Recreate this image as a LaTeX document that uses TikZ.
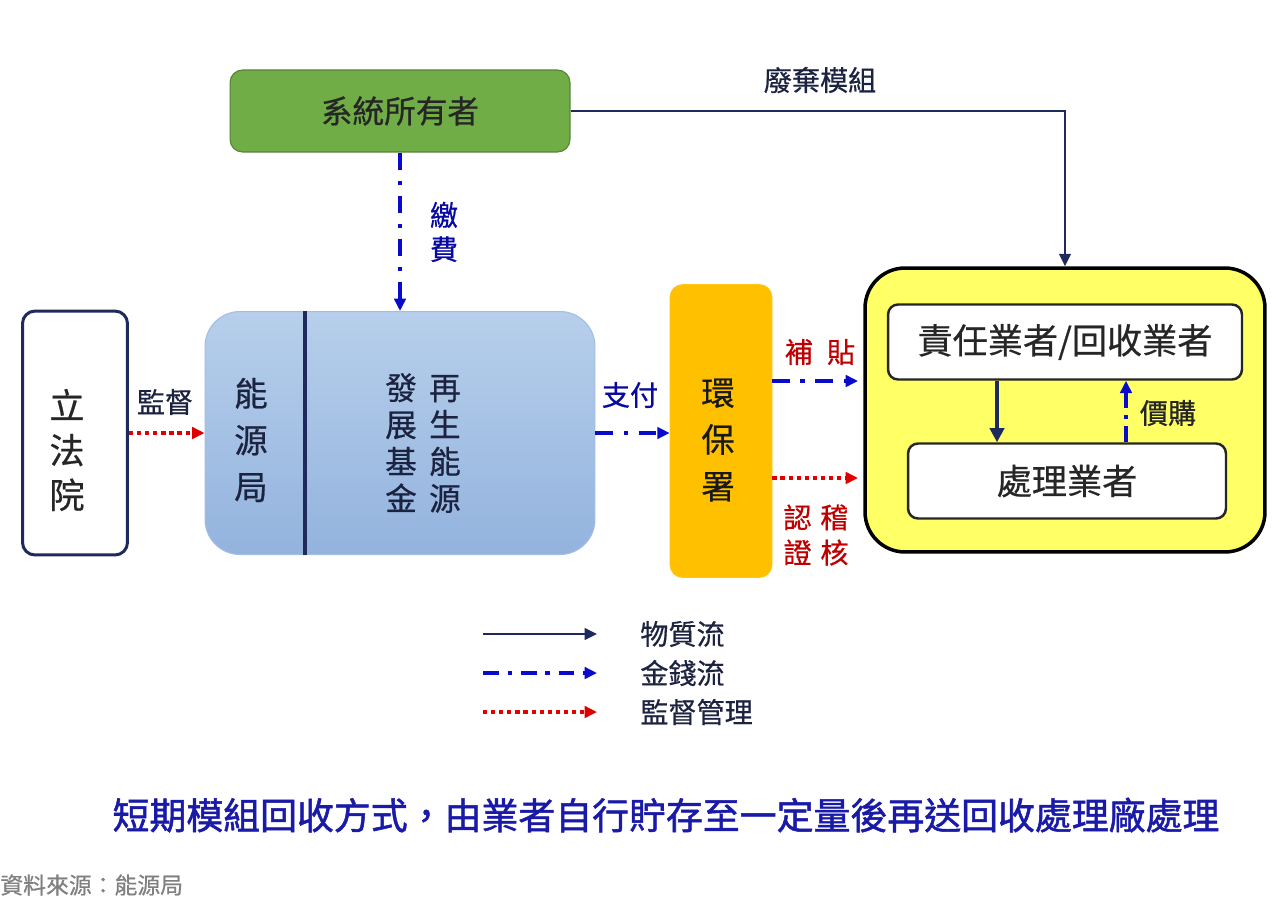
\documentclass[tikz,border=0pt]{standalone}
\usepackage{fontspec}
\setmainfont{Noto Sans CJK TC}[FakeBold=0.6]
\newfontfamily\capfont{Noto Sans CJK TC}[FakeBold=1.4]
\usetikzlibrary{arrows.meta, positioning}
\definecolor{navy}{HTML}{1F2A5C}
\definecolor{inkdark}{HTML}{1C2340}
\definecolor{moneyblue}{HTML}{0A0ACC}
\definecolor{supred}{HTML}{E00000}
\definecolor{labelred}{HTML}{C00000}
\definecolor{ownergreen}{HTML}{70AD47}
\definecolor{fundtop}{HTML}{B7CFEB}
\definecolor{fundbot}{HTML}{93B3DE}
\definecolor{epaorange}{HTML}{FFC000}
\definecolor{opsyellow}{HTML}{FFFF66}
\definecolor{captionblue}{HTML}{1A1AA8}
\newcommand{\fsz}[2]{\fontsize{#1}{#2}\selectfont}

\begin{document}
\begin{tikzpicture}[x=0.02cm, y=-0.02cm, >={Triangle[length=7pt, width=6.5pt]}]
        \tikzstyle{ownerbox} = [rectangle, fill=ownergreen, draw=ownergreen!75!black, line width=0.6pt, rounded corners=0.25cm, minimum width=6.8cm, minimum height=1.64cm, font=\fsz{18}{22}, text=black!85]
        \tikzstyle{fundbox} = [rectangle, top color=fundtop, bottom color=fundbot, draw=fundbot!85!white, line width=0.6pt, rounded corners=0.7cm, minimum width=7.8cm, minimum height=4.86cm]
        \tikzstyle{legisbox} = [rectangle, fill=white, draw=navy, line width=1.7pt, rounded corners=0.25cm, minimum width=2.1cm, minimum height=4.88cm]
        \tikzstyle{epabox} = [rectangle, fill=epaorange, draw=epaorange!90!white, rounded corners=0.25cm, minimum width=2.04cm, minimum height=5.86cm]
        \tikzstyle{opsbox} = [rectangle, fill=opsyellow, draw=black, line width=2pt, rounded corners=0.8cm, minimum width=8cm, minimum height=5.68cm]
        \tikzstyle{firmbox} = [rectangle, fill=white, draw=black!85, line width=1.4pt, rounded corners=0.2cm, minimum height=1.5cm, font=\fsz{20}{24}, text=black!85]
        \tikzstyle{coltext} = [align=center, inner sep=0pt]
        \tikzstyle{lbl} = [align=center, inner sep=0pt, font=\fsz{16}{19.5}]
        \tikzstyle{matflow} = [->, navy, line width=1.3pt]
        \tikzstyle{money} = [->, moneyblue, line width=2.3pt, dash pattern=on 10pt off 6pt on 2.5pt off 6pt]
        \tikzstyle{superv} = [->, supred, line width=2.2pt, dash pattern=on 2.4pt off 2.2pt]

        \fill[white] (0,0) rectangle (1280,900);
        \useasboundingbox (0,0) rectangle (1280,900);

        % boxes
        \node [ownerbox] (owner) at (400,111) {系統所有者};
        \node [fundbox] (fund) at (400,433) {};
        \draw [navy, line width=2.2pt] (fund.north -| 305,0) -- (fund.south -| 305,0);
        \node [coltext, font=\fsz{19}{26.6}, text=inkdark] (bureau) at (251,440) {能\\源\\局};
        \node [coltext, font=\fsz{18}{21}, text=inkdark] (fundtext) at (423,443) {發\hspace{7pt}再\\展\hspace{7pt}生\\基\hspace{7pt}能\\金\hspace{7pt}源};
        \node [legisbox] (legis) at (75,433) {};
        \node [coltext, font=\fsz{20}{25.5}, text=black!85] (legistext) at (67,450) {立\\法\\院};
        \node [epabox] (epa) at (721,431) {};
        \node [coltext, font=\fsz{19}{26.6}, text=black!90] (epatext) at (718,440) {環\\保\\署};
        \node [opsbox] (ops) at (1065,410) {};
        \node [firmbox, minimum width=7.08cm] (resp) at (1065,342) {責任業者/回收業者};
        \node [firmbox, minimum width=6.36cm] (proc) at (1067,481) {處理業者};

        % connectors
        \coordinate (subsidy) at (0,381);
        \coordinate (audit) at (0,478);
        \coordinate (down) at (997,0);
        \coordinate (up) at (1126,0);
        \draw [matflow] (owner.east) -| (ops.north);
        \draw [money] (owner.south) -- (fund.north);
        \draw [superv] (legis.east) -- (fund.west);
        \draw [money] (fund.east) -- (fund.east -| epa.west);
        \draw [money] (epa.east |- subsidy) -- ([xshift=-3pt]ops.west |- subsidy);
        \draw [superv] (epa.east |- audit) -- ([xshift=-3pt]ops.west |- audit);
        \draw [matflow, line width=2pt, >={Triangle[length=8pt, width=8pt]}] (down |- resp.south) -- (down |- proc.north);
        \draw [money, dash pattern=on 9pt off 4pt on 2.5pt off 4pt] (up |- proc.north) -- (up |- resp.south);

        % labels
        \node [lbl, text=inkdark] (lscrap) at (820,80) {廢棄模組};
        \node [lbl, text=moneyblue!80!black] (lfee) at (444,232) {繳\\費};
        \node [lbl, text=inkdark] (lwatch) at (165,402) {監督};
        \node [lbl, text=moneyblue!80!black] (lpay) at (630,395) {支付};
        \node [lbl, text=labelred] (lsub) at (820,352) {補\hspace{8pt}貼};
        \node [lbl, text=labelred, font=\fsz{16}{20}] (lcert) at (816,535) {認\hspace{5pt}稽\\證\hspace{5pt}核};
        \node [lbl, text=black!85] (lbuy) at (1168,413) {價購};

        % legend
        \coordinate (mata) at (483,634);
        \coordinate (matb) at (597,634);
        \coordinate (mona) at (483,673);
        \coordinate (monb) at (597,673);
        \coordinate (supa) at (483,712);
        \coordinate (supb) at (597,712);
        \draw [matflow] (mata) -- (matb);
        \draw [money, dash pattern=on 9pt off 5pt on 2.5pt off 5pt] (mona) -- (monb);
        \draw [superv] (supa) -- (supb);
        \node [lbl, anchor=west, text=inkdark] (lmat) at (640,634) {物質流};
        \node [lbl, anchor=west, text=inkdark] (lmon) at (640,673) {金錢流};
        \node [lbl, anchor=west, text=inkdark] (lsup) at (640,712) {監督管理};

        % caption and source
        \node [inner sep=0pt, font=\capfont\fsz{21}{24}, text=captionblue] (caption) at (666,815) {短期模組回收方式，由業者自行貯存至一定量後再送回收處理廠處理};
        \node [inner sep=0pt, anchor=west, font=\fsz{13}{15}, text=gray] (source) at (0,885) {資料來源：能源局};
\end{tikzpicture}
\end{document}
